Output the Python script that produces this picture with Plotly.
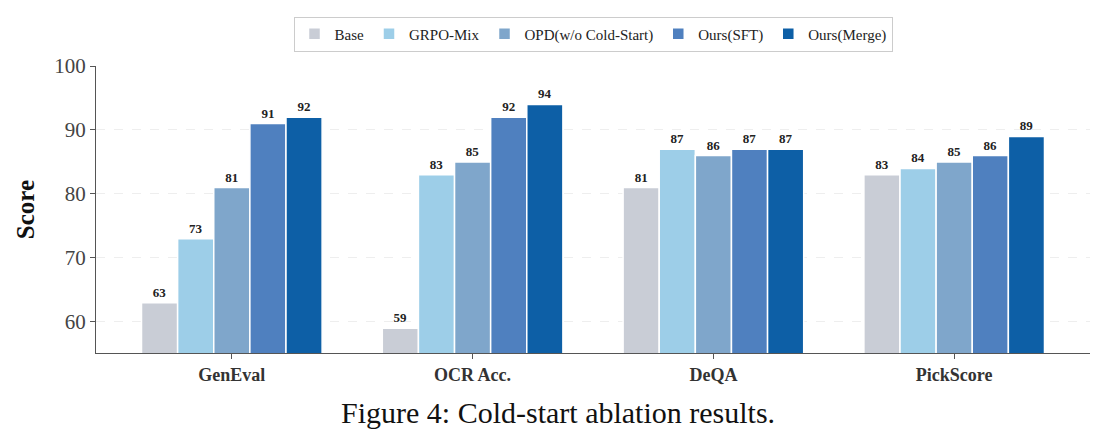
import plotly.graph_objects as go

categories = ["GenEval", "OCR Acc.", "DeQA", "PickScore"]
series_names = ["Base", "GRPO-Mix", "OPD(w/o Cold-Start)", "Ours(SFT)", "Ours(Merge)"]
base = [63, 59, 81, 83]
grpo_mix = [73, 83, 87, 84]
opd = [81, 85, 86, 85]
ours_sft = [91, 92, 87, 86]
ours_merge = [92, 94, 87, 89]
values = [base, grpo_mix, opd, ours_sft, ours_merge]
colors = ["#c9cdd6", "#9dcee8", "#7fa6cb", "#4f80bf", "#0d5fa6"]
yticks = [60, 70, 80, 90, 100]

FONT = "Liberation Serif, Times New Roman, serif"

fig = go.Figure()
for name, vals, col in zip(series_names, values, colors):
    fig.add_trace(go.Bar(
        name=name, x=categories, y=vals,
        marker=dict(color=col, line=dict(color="white", width=1.5)),
        text=[str(v) for v in vals], textposition="outside",
        textfont=dict(family=FONT, size=13, color="#222222", weight="bold"),
        cliponaxis=False,
    ))

fig.update_layout(
    width=1115, height=447,
    barmode="group", bargap=0.25, bargroupgap=0,
    plot_bgcolor="white", paper_bgcolor="white",
    margin=dict(l=96, r=25, t=66, b=94, autoexpand=False),
    font=dict(family=FONT, color="#333333"),
    legend=dict(
        orientation="h", x=0.5, xanchor="center",
        yref="container", y=1 - 34 / 447, yanchor="middle",
        bordercolor="#cccccc", borderwidth=1,
        font=dict(family=FONT, size=15, color="#222222"),
        tracegroupgap=0,
    ),
    xaxis=dict(
        range=[-0.564, 3.564],
        showline=True, linecolor="#555555", linewidth=1.2,
        ticks="outside", ticklen=5, tickcolor="#555555",
        tickfont=dict(family=FONT, size=18, color="#333333", weight="bold"),
        showgrid=False,
    ),
    yaxis=dict(
        range=[55.15, 100], tickvals=yticks,
        showline=True, linecolor="#555555", linewidth=1.2,
        ticks="outside", ticklen=5, tickcolor="#555555",
        tickfont=dict(family=FONT, size=21, color="#444444"),
        showgrid=True, gridcolor="#eeeeee", griddash="dash", gridwidth=1,
        zeroline=False,
        title=dict(text="Score", font=dict(family=FONT, size=25, color="#111111", weight="bold"), standoff=12),
    ),
)

fig.add_annotation(
    text="Figure 4: Cold-start ablation results.",
    xref="paper", yref="paper", x=(557.5 - 96) / 994, y=-(412 - 353) / 287,
    xanchor="center", yanchor="middle",
    showarrow=False, font=dict(family=FONT, size=30, color="#111111"),
)

fig.write_html("out.html")
